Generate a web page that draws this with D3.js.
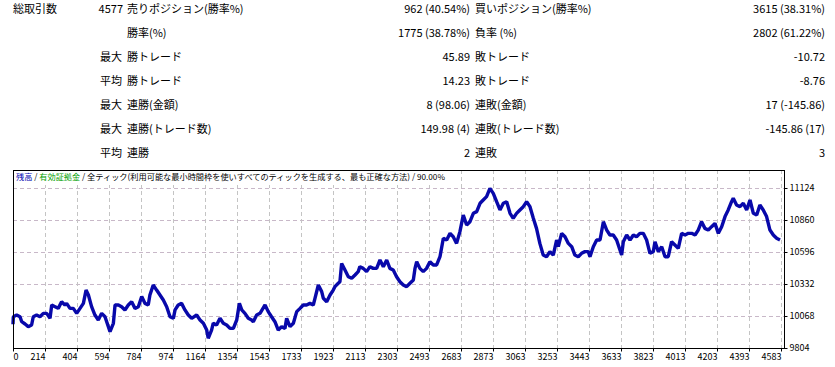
<!DOCTYPE html>
<html>
<head>
<meta charset="utf-8">
<script src="https://cdn.jsdelivr.net/npm/d3@7"></script>
<style>
  body { margin: 0; background: #fff; }
  text { font-family: "Noto Sans CJK JP", "Noto Sans", sans-serif; }
</style>
</head>
<body>
<svg id="chart" width="835" height="367"></svg>
<script>
// summary table
var totalLabel = "総取引数";
var totalValue = "4577";
var rowPrefix = ["", "", "最大", "平均", "最大", "最大", "平均"];
var leftLabels = ["売りポジション(勝率%)", "勝率(%)", "勝トレード", "勝トレード", "連勝(金額)", "連勝(トレード数)", "連勝"];
var leftValues = ["962 (40.54%)", "1775 (38.78%)", "45.89", "14.23", "8 (98.06)", "149.98 (4)", "2"];
var rightLabels = ["買いポジション(勝率%)", "負率 (%)", "敗トレード", "敗トレード", "連敗(金額)", "連敗(トレード数)", "連敗"];
var rightValues = ["3615 (38.31%)", "2802 (61.22%)", "-10.72", "-8.76", "17 (-145.86)", "-145.86 (17)", "3"];

// chart axes
var xTickLabels = ["0", "214", "404", "594", "784", "974", "1164", "1354", "1543", "1733", "1923", "2113", "2303",
  "2493", "2683", "2873", "3063", "3253", "3443", "3633", "3823", "4013", "4203", "4393", "4583"];
var yTicks = [9804, 10068, 10332, 10596, 10860, 11124];
var totalTrades = 4577;

// balance curve: [trade #, balance]
var balance = [
  [0,10000],[2,10062],[22,10076],[42,10062],[52,10021],[72,10002],[91,9980],[111,9994],[121,10062],[141,10076],
  [161,10062],[181,10090],[201,10090],[221,10049],[231,10159],[251,10145],[270,10131],[290,10186],[310,10159],[320,10172],
  [340,10131],[360,10131],[380,10090],[400,10131],[420,10172],[436,10282],[450,10241],[469,10145],[489,10076],[509,10035],
  [529,10090],[549,10062],[579,9939],[599,10008],[609,10159],[629,10159],[648,10145],[668,10118],[688,10159],[708,10186],
  [728,10131],[748,10145],[768,10228],[788,10172],[807,10159],[817,10241],[837,10324],[857,10282],[877,10241],[897,10200],
  [917,10145],[937,10062],[957,10049],[967,10118],[986,10159],[1006,10172],[1026,10118],[1046,10076],[1066,10049],[1096,10076],
  [1116,10035],[1136,10008],[1156,9952],[1165,9884],[1185,9952],[1195,10008],[1215,9994],[1235,10049],[1255,10008],[1275,9994],
  [1295,9966],[1315,9966],[1335,10035],[1351,10172],[1365,10118],[1384,10090],[1404,10049],[1424,10035],[1434,10021],[1454,10076],
  [1474,10090],[1504,10159],[1523,10104],[1543,10062],[1563,10021],[1583,9952],[1603,9980],[1623,9966],[1633,10049],[1653,9980],
  [1673,10008],[1693,10104],[1713,10131],[1732,10159],[1752,10159],[1772,10172],[1792,10159],[1802,10214],[1822,10324],[1842,10269],
  [1852,10214],[1872,10186],[1892,10241],[1911,10282],[1921,10310],[1941,10338],[1951,10351],[1961,10502],[1981,10447],[2001,10392],
  [2021,10379],[2041,10406],[2060,10434],[2070,10475],[2090,10461],[2110,10434],[2130,10475],[2150,10461],[2170,10461],[2190,10530],
  [2210,10475],[2230,10530],[2249,10461],[2269,10447],[2289,10392],[2309,10351],[2329,10324],[2349,10310],[2369,10338],[2389,10365],
  [2399,10461],[2409,10516],[2428,10461],[2448,10434],[2468,10461],[2488,10516],[2508,10489],[2528,10489],[2548,10557],[2568,10709],
  [2588,10695],[2608,10750],[2627,10722],[2647,10667],[2667,10764],[2687,10901],[2707,10819],[2727,10846],[2747,10915],[2767,10929],
  [2787,10998],[2806,11025],[2826,11053],[2846,11121],[2866,11080],[2886,11011],[2906,10943],[2926,10998],[2946,11011],[2966,10915],
  [2985,10874],[3005,10915],[3025,10943],[3045,10970],[3065,11011],[3085,10970],[3105,10874],[3124,10791],[3144,10667],[3164,10571],
  [3184,10557],[3204,10599],[3224,10571],[3244,10695],[3254,10640],[3274,10750],[3294,10722],[3314,10667],[3334,10640],[3353,10571],
  [3373,10557],[3393,10585],[3413,10599],[3433,10599],[3443,10557],[3463,10640],[3483,10695],[3503,10695],[3523,10846],[3543,10777],
  [3562,10736],[3582,10736],[3602,10695],[3622,10612],[3632,10571],[3642,10681],[3662,10736],[3682,10695],[3702,10736],[3721,10722],
  [3741,10750],[3761,10750],[3781,10695],[3801,10585],[3821,10599],[3831,10681],[3851,10599],[3871,10640],[3891,10557],[3910,10557],
  [3930,10681],[3950,10654],[3970,10626],[3990,10750],[4010,10736],[4030,10750],[4050,10750],[4070,10736],[4089,10777],[4109,10846],
  [4129,10791],[4149,10777],[4169,10805],[4189,10832],[4209,10750],[4229,10805],[4249,10888],[4268,10943],[4288,11011],[4298,11039],
  [4318,10984],[4338,10970],[4358,10998],[4378,10943],[4398,11025],[4418,10915],[4438,10901],[4457,10984],[4477,10943],[4497,10888],
  [4517,10777],[4537,10736],[4557,10709],[4577,10695]
];

var svg = d3.select("#chart");

//create the summary table
var rowY = function(i) { return 9 + i * 24; };
var tbl = svg.append("g").attr("font-size", 11).attr("fill", "#000");

tbl.append("text").attr("x", 13).attr("y", rowY(0)).attr("dy", "0.35em").text(totalLabel);
tbl.append("text").attr("x", 123).attr("y", rowY(0)).attr("dy", "0.35em")
  .attr("text-anchor", "end").text(totalValue);

leftLabels.forEach(function(d, i) {
  if (rowPrefix[i]) {
    tbl.append("text").attr("x", 100).attr("y", rowY(i)).attr("dy", "0.35em").text(rowPrefix[i]);
  }
  tbl.append("text").attr("x", 127).attr("y", rowY(i)).attr("dy", "0.35em").text(d);
  tbl.append("text").attr("x", 470).attr("y", rowY(i)).attr("dy", "0.35em")
    .attr("text-anchor", "end").text(leftValues[i]);
  tbl.append("text").attr("x", 475).attr("y", rowY(i)).attr("dy", "0.35em").text(rightLabels[i]);
  tbl.append("text").attr("x", 825).attr("y", rowY(i)).attr("dy", "0.35em")
    .attr("text-anchor", "end").text(rightValues[i]);
});

//create the chart
var pLeft = 13, pRight = 784, pTop = 170, pBottom = 348;

var x = d3.scaleLinear().domain([0, totalTrades]).range([pLeft, 780]);
var xTicks = d3.scalePoint().domain(xTickLabels).range([pLeft, 781]);
var y = d3.scaleLinear().domain([9804, 11124]).range([pBottom, 188]);

// horizontal grid
svg.append("g").selectAll("line")
  .data(yTicks.filter(function(d) { return d > 9804; }))
  .enter().append("line")
  .attr("x1", pLeft).attr("x2", pRight)
  .attr("y1", function(d) { return y(d) + 0.5; })
  .attr("y2", function(d) { return y(d) + 0.5; })
  .attr("stroke", "#c8b8c8")
  .attr("stroke-dasharray", "4,3");

// vertical grid
svg.append("g").selectAll("line")
  .data(xTickLabels.slice(1))
  .enter().append("line")
  .attr("x1", function(d) { return xTicks(d) + 0.5; })
  .attr("x2", function(d) { return xTicks(d) + 0.5; })
  .attr("y1", pTop).attr("y2", pBottom)
  .attr("stroke", "#c4c4c4")
  .attr("stroke-dasharray", "4,3");

// title with white backing
var titleBg = svg.append("rect").attr("fill", "#fff");
var title = svg.append("text")
  .attr("x", 16).attr("y", 177).attr("dy", "0.35em")
  .attr("font-size", 8.2).attr("fill", "#000");
title.append("tspan").attr("fill", "#0000b0").text("残高");
title.append("tspan").text(" / ");
title.append("tspan").attr("fill", "#00a000").text("有効証拠金");
title.append("tspan").text(" / 全ティック(利用可能な最小時間枠を使いすべてのティックを生成する、最も正確な方法) / 90.00%");
var bb = title.node().getBBox();
titleBg.attr("x", bb.x - 1).attr("y", pTop + 1)
  .attr("width", bb.width + 2).attr("height", 14);

// balance line
var line = d3.line()
  .x(function(d) { return x(d[0]); })
  .y(function(d) { return y(d[1]); });

svg.append("path")
  .datum(balance)
  .attr("d", line)
  .attr("fill", "none")
  .attr("stroke", "#0808aa")
  .attr("stroke-width", 3.4)
  .attr("stroke-linejoin", "bevel");

// frame
svg.append("rect")
  .attr("x", pLeft + 0.5).attr("y", pTop + 0.5)
  .attr("width", pRight - pLeft).attr("height", pBottom - pTop)
  .attr("fill", "none").attr("stroke", "#000");

// axes
var xAxis = svg.append("g")
  .attr("transform", "translate(0," + (pBottom + 0.5) + ")")
  .call(d3.axisBottom(xTicks).tickSize(3).tickSizeOuter(0));
xAxis.select(".domain").remove();
xAxis.selectAll("text")
  .attr("font-size", 9).attr("font-family", "'Noto Sans CJK JP', sans-serif")
  .attr("fill", "#000")
  .attr("y", 5)
  .attr("text-anchor", function(d) { return d === "0" ? "start" : "end"; });
xAxis.selectAll("line").attr("stroke", "#000");

var yAxis = svg.append("g")
  .attr("transform", "translate(" + (pRight + 0.5) + ",0)")
  .call(d3.axisRight(y).tickValues(yTicks).tickSize(3).tickSizeOuter(0).tickFormat(d3.format("d")));
yAxis.select(".domain").remove();
yAxis.selectAll("text")
  .attr("font-size", 9).attr("font-family", "'Noto Sans CJK JP', sans-serif")
  .attr("fill", "#000").attr("x", 5);
yAxis.selectAll("line").attr("stroke", "#000");
</script>
</body>
</html>
